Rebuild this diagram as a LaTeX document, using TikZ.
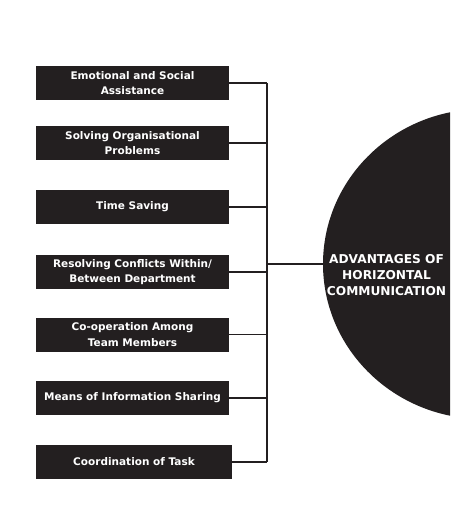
\documentclass[tikz,border=0pt]{standalone}
\usepackage{fontspec}
\setmainfont{DejaVu Sans}
\usepackage{tikz}
\usetikzlibrary{shapes.geometric, calc}
\definecolor{inkblack}{HTML}{231F20}
\tikzset{
    reason/.style={fill=inkblack, text=white, font=\bfseries\fontsize{10.5}{15.5}\selectfont, align=center, minimum width=193pt, minimum height=34pt, inner sep=0pt},
    hub/.style={ellipse, fill=inkblack, minimum width=320pt, minimum height=310pt, inner sep=0pt},
    hubtext/.style={text=white, font=\bfseries\fontsize{12.2}{16}\selectfont, align=center},
    link/.style={draw=inkblack, line width=1.2pt},
    mainlink/.style={draw=inkblack, line width=2pt}
}

\begin{document}
\begin{tikzpicture}[x=1pt, y=-1pt]
    \clip (0,0) rectangle (450,524);
    \fill[white] (0,0) rectangle (450,524);
    \coordinate (bus) at (267,0); % vertical line
    \node[hub] (center) at (483,264) {};
    \node[hubtext] (centerlabel) at (386.5,275) {ADVANTAGES OF\\HORIZONTAL\\COMMUNICATION};
    \node[reason] (emotional) at (132.5,83) {Emotional and Social\\Assistance};
    \node[reason] (solving) at (132.5,143) {Solving Organisational\\Problems};
    \node[reason] (time) at (132.5,207) {Time Saving};
    \node[reason] (conflicts) at (132.5,272) {Resolving Conflicts Within/\\Between Department};
    \node[reason] (cooperation) at (132.5,334.5) {Co-operation Among\\Team Members};
    \node[reason] (sharing) at (132.5,398) {Means of Information Sharing};
    \node[reason, minimum width=196pt] (task) at (134,462) {Coordination of Task};
    \foreach \n in {emotional, solving, time, conflicts, cooperation, sharing, task}
        \draw[link] (\n.east) -- (\n.east -| bus);
    \draw[link] (emotional.east -| bus) -- (task.east -| bus);
    \draw[mainlink] (bus |- center.west) -- (center.west);
\end{tikzpicture}
\end{document}
